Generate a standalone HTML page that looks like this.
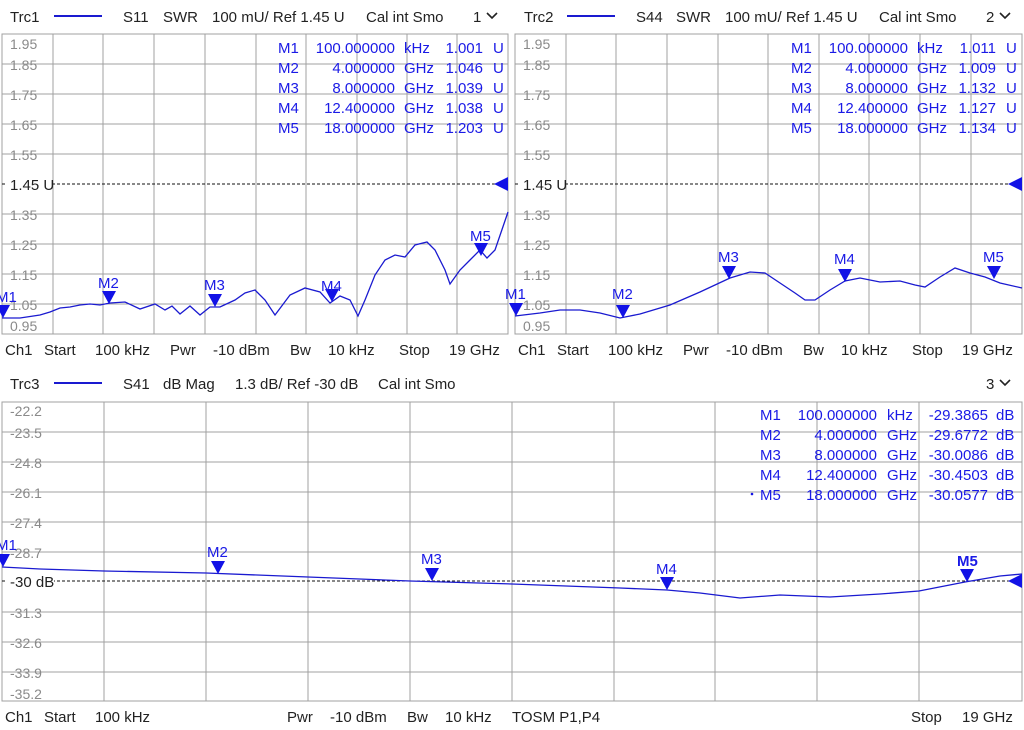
<!DOCTYPE html>
<html><head><meta charset="utf-8"><style>
html,body{margin:0;padding:0;background:#fff;}
svg{display:block;font-family:"Liberation Sans",sans-serif;}
.ax{fill:#8a8a8a;font-size:14px;}
.t{fill:#222;font-size:15px;}
.m{fill:#1a1ae6;font-size:15px;}
.g{stroke:#a0a0a0;stroke-width:1;fill:none;}
.tr{stroke:#1a1ad0;stroke-width:1.3;fill:none;}
</style></head><body>
<svg width="1024" height="730" viewBox="0 0 1024 730">
<rect width="1024" height="730" fill="#fff"/>
<defs>
<path id="mk" d="M-7,-13 L7,-13 L0,0 Z" fill="#1212e6"/>
</defs>

<!-- ===== Panel 1 ===== -->
<g>
<text class="t" x="10" y="22">Trc1</text>
<line x1="54" y1="16" x2="102" y2="16" stroke="#1a1ad0" stroke-width="2"/>
<text class="t" x="123" y="22">S11</text>
<text class="t" x="163" y="22">SWR</text>
<text class="t" x="212" y="22">100 mU/ Ref 1.45 U</text>
<text class="t" x="366" y="22">Cal int Smo</text>
<text class="t" x="473" y="22">1</text>
<path d="M487,13 L492,18 L497,13" stroke="#222" stroke-width="1.6" fill="none"/>
<rect x="2" y="34" width="506" height="300" class="g"/>
<g class="g">
<path d="M53,34V334M103,34V334M154,34V334M205,34V334M256,34V334M306,34V334M357,34V334M407,34V334M457,34V334"/>
<path d="M2,64H508M2,94H508M2,124H508M2,154H508M2,214H508M2,244H508M2,274H508M2,304H508"/>
</g>
<line x1="2" y1="184" x2="508" y2="184" stroke="#111" stroke-dasharray="3,2"/>
<g class="ax">
<text x="10" y="49">1.95</text><text x="10" y="70">1.85</text><text x="10" y="100">1.75</text>
<text x="10" y="130">1.65</text><text x="10" y="160">1.55</text><text x="10" y="220">1.35</text>
<text x="10" y="250">1.25</text><text x="10" y="280">1.15</text><text x="10" y="310">1.05</text>
<text x="10" y="331">0.95</text>
</g>
<rect x="6" y="176" width="46" height="17" fill="#fff"/>
<text class="t" x="10" y="190" font-size="14">1.45 U</text>
<path d="M508,177 L494,184 L508,191 Z" fill="#1212e6"/>
<polyline class="tr" points="2,318 20,318 40,315 50,312 60,308 70,307 80,305 90,304 100,305 110,303 125,302 140,309 155,304 165,310 172,306 180,314 190,306 200,315 210,307 220,307 235,300 245,293 255,290 265,300 275,315 290,295 305,288 320,292 330,303 340,296 350,300 358,316 365,300 375,275 385,260 395,255 405,257 415,245 427,242 435,250 445,270 450,284 460,270 470,260 480,250 487,258 495,250 508,212"/>
<use href="#mk" x="3" y="318"/><text class="m" x="-4" y="302">M1</text>
<use href="#mk" x="109" y="304"/><text class="m" x="98" y="288">M2</text>
<use href="#mk" x="215" y="307"/><text class="m" x="204" y="290">M3</text>
<use href="#mk" x="332" y="302"/><text class="m" x="321" y="291">M4</text>
<use href="#mk" x="481" y="256"/><text class="m" x="470" y="241">M5</text>
<g class="m">
<text x="278" y="53">M1</text><text x="395" y="53" text-anchor="end">100.000000</text><text x="404" y="53">kHz</text><text x="483" y="53" text-anchor="end">1.001</text><text x="493" y="53">U</text>
<text x="278" y="73">M2</text><text x="395" y="73" text-anchor="end">4.000000</text><text x="404" y="73">GHz</text><text x="483" y="73" text-anchor="end">1.046</text><text x="493" y="73">U</text>
<text x="278" y="93">M3</text><text x="395" y="93" text-anchor="end">8.000000</text><text x="404" y="93">GHz</text><text x="483" y="93" text-anchor="end">1.039</text><text x="493" y="93">U</text>
<text x="278" y="113">M4</text><text x="395" y="113" text-anchor="end">12.400000</text><text x="404" y="113">GHz</text><text x="483" y="113" text-anchor="end">1.038</text><text x="493" y="113">U</text>
<text x="278" y="133">M5</text><text x="395" y="133" text-anchor="end">18.000000</text><text x="404" y="133">GHz</text><text x="483" y="133" text-anchor="end">1.203</text><text x="493" y="133">U</text>
</g>
<g class="t">
<text x="5" y="355">Ch1</text><text x="44" y="355">Start</text><text x="95" y="355">100 kHz</text>
<text x="170" y="355">Pwr</text><text x="213" y="355">-10 dBm</text><text x="290" y="355">Bw</text>
<text x="328" y="355">10 kHz</text><text x="399" y="355">Stop</text><text x="449" y="355">19 GHz</text>
</g>
</g>

<!-- ===== Panel 2 ===== -->
<g>
<text class="t" x="524" y="22">Trc2</text>
<line x1="567" y1="16" x2="615" y2="16" stroke="#1a1ad0" stroke-width="2"/>
<text class="t" x="636" y="22">S44</text>
<text class="t" x="676" y="22">SWR</text>
<text class="t" x="725" y="22">100 mU/ Ref 1.45 U</text>
<text class="t" x="879" y="22">Cal int Smo</text>
<text class="t" x="986" y="22">2</text>
<path d="M1000,13 L1005,18 L1010,13" stroke="#222" stroke-width="1.6" fill="none"/>
<rect x="515" y="34" width="507" height="300" class="g"/>
<g class="g">
<path d="M566,34V334M616,34V334M667,34V334M718,34V334M768,34V334M819,34V334M869,34V334M920,34V334M971,34V334"/>
<path d="M515,64H1022M515,94H1022M515,124H1022M515,154H1022M515,214H1022M515,244H1022M515,274H1022M515,304H1022"/>
</g>
<line x1="515" y1="184" x2="1022" y2="184" stroke="#111" stroke-dasharray="3,2"/>
<g class="ax">
<text x="523" y="49">1.95</text><text x="523" y="70">1.85</text><text x="523" y="100">1.75</text>
<text x="523" y="130">1.65</text><text x="523" y="160">1.55</text><text x="523" y="220">1.35</text>
<text x="523" y="250">1.25</text><text x="523" y="280">1.15</text><text x="523" y="310">1.05</text>
<text x="523" y="331">0.95</text>
</g>
<rect x="519" y="176" width="46" height="17" fill="#fff"/>
<text class="t" x="523" y="190" font-size="14">1.45 U</text>
<path d="M1022,177 L1008,184 L1022,191 Z" fill="#1212e6"/>
<polyline class="tr" points="515,316 540,313 560,310 580,310 600,313 620,318 640,314 670,305 700,292 730,278 750,272 765,273 780,283 795,293 805,300 815,300 830,290 845,281 860,278 880,282 900,281 915,285 925,287 940,277 955,268 970,273 985,277 1000,283 1022,288"/>
<use href="#mk" x="516" y="316"/><text class="m" x="505" y="299">M1</text>
<use href="#mk" x="623" y="318"/><text class="m" x="612" y="299">M2</text>
<use href="#mk" x="729" y="279"/><text class="m" x="718" y="262">M3</text>
<use href="#mk" x="845" y="282"/><text class="m" x="834" y="264">M4</text>
<use href="#mk" x="994" y="279"/><text class="m" x="983" y="262">M5</text>
<g class="m">
<text x="791" y="53">M1</text><text x="908" y="53" text-anchor="end">100.000000</text><text x="917" y="53">kHz</text><text x="996" y="53" text-anchor="end">1.011</text><text x="1006" y="53">U</text>
<text x="791" y="73">M2</text><text x="908" y="73" text-anchor="end">4.000000</text><text x="917" y="73">GHz</text><text x="996" y="73" text-anchor="end">1.009</text><text x="1006" y="73">U</text>
<text x="791" y="93">M3</text><text x="908" y="93" text-anchor="end">8.000000</text><text x="917" y="93">GHz</text><text x="996" y="93" text-anchor="end">1.132</text><text x="1006" y="93">U</text>
<text x="791" y="113">M4</text><text x="908" y="113" text-anchor="end">12.400000</text><text x="917" y="113">GHz</text><text x="996" y="113" text-anchor="end">1.127</text><text x="1006" y="113">U</text>
<text x="791" y="133">M5</text><text x="908" y="133" text-anchor="end">18.000000</text><text x="917" y="133">GHz</text><text x="996" y="133" text-anchor="end">1.134</text><text x="1006" y="133">U</text>
</g>
<g class="t">
<text x="518" y="355">Ch1</text><text x="557" y="355">Start</text><text x="608" y="355">100 kHz</text>
<text x="683" y="355">Pwr</text><text x="726" y="355">-10 dBm</text><text x="803" y="355">Bw</text>
<text x="841" y="355">10 kHz</text><text x="912" y="355">Stop</text><text x="962" y="355">19 GHz</text>
</g>
</g>

<!-- ===== Panel 3 ===== -->
<g>
<text class="t" x="10" y="389">Trc3</text>
<line x1="54" y1="383" x2="102" y2="383" stroke="#1a1ad0" stroke-width="2"/>
<text class="t" x="123" y="389">S41</text>
<text class="t" x="163" y="389">dB Mag</text>
<text class="t" x="235" y="389">1.3 dB/ Ref -30 dB</text>
<text class="t" x="378" y="389">Cal int Smo</text>
<text class="t" x="986" y="389">3</text>
<path d="M1000,380 L1005,385 L1010,380" stroke="#222" stroke-width="1.6" fill="none"/>
<rect x="2" y="402" width="1020" height="299" class="g"/>
<g class="g">
<path d="M104,402V701M206,402V701M308,402V701M410,402V701M512,402V701M614,402V701M715,402V701M817,402V701M919,402V701"/>
<path d="M2,432H1022M2,462H1022M2,492H1022M2,522H1022M2,552H1022M2,612H1022M2,642H1022M2,672H1022"/>
</g>
<line x1="2" y1="581" x2="1022" y2="581" stroke="#111" stroke-dasharray="3,2"/>
<g class="ax">
<text x="10" y="416">-22.2</text><text x="10" y="438">-23.5</text><text x="10" y="468">-24.8</text>
<text x="10" y="498">-26.1</text><text x="10" y="528">-27.4</text><text x="10" y="558">-28.7</text>
<text x="10" y="618">-31.3</text><text x="10" y="648">-32.6</text><text x="10" y="678">-33.9</text>
<text x="10" y="699">-35.2</text>
</g>
<rect x="6" y="573" width="48" height="17" fill="#fff"/>
<text class="t" x="10" y="587" font-size="14">-30 dB</text>
<path d="M1022,574 L1008,581 L1022,588 Z" fill="#1212e6"/>
<polyline class="tr" points="2,567 40,569 104,571 206,573 308,577 410,581 512,584 620,588 667,590 700,593 740,598 780,595 830,597 880,594 919,591 965,582 1000,576 1022,574"/>
<use href="#mk" x="3" y="567"/><text class="m" x="-4" y="550">M1</text>
<use href="#mk" x="218" y="574"/><text class="m" x="207" y="557">M2</text>
<use href="#mk" x="432" y="581"/><text class="m" x="421" y="564">M3</text>
<use href="#mk" x="667" y="590"/><text class="m" x="656" y="574">M4</text>
<use href="#mk" x="967" y="582"/><text class="m" x="957" y="566" font-weight="bold">M5</text>
<g class="m">
<text x="760" y="420">M1</text><text x="877" y="420" text-anchor="end">100.000000</text><text x="887" y="420">kHz</text><text x="988" y="420" text-anchor="end">-29.3865</text><text x="996" y="420">dB</text>
<text x="760" y="440">M2</text><text x="877" y="440" text-anchor="end">4.000000</text><text x="887" y="440">GHz</text><text x="988" y="440" text-anchor="end">-29.6772</text><text x="996" y="440">dB</text>
<text x="760" y="460">M3</text><text x="877" y="460" text-anchor="end">8.000000</text><text x="887" y="460">GHz</text><text x="988" y="460" text-anchor="end">-30.0086</text><text x="996" y="460">dB</text>
<text x="760" y="480">M4</text><text x="877" y="480" text-anchor="end">12.400000</text><text x="887" y="480">GHz</text><text x="988" y="480" text-anchor="end">-30.4503</text><text x="996" y="480">dB</text>
<text x="760" y="500">M5</text><text x="877" y="500" text-anchor="end">18.000000</text><text x="887" y="500">GHz</text><text x="988" y="500" text-anchor="end">-30.0577</text><text x="996" y="500">dB</text>
<circle cx="752" cy="494" r="1.3" fill="#1212e6"/>
</g>
<g class="t">
<text x="5" y="722">Ch1</text><text x="44" y="722">Start</text><text x="95" y="722">100 kHz</text>
<text x="287" y="722">Pwr</text><text x="330" y="722">-10 dBm</text><text x="407" y="722">Bw</text>
<text x="445" y="722">10 kHz</text><text x="512" y="722">TOSM P1,P4</text>
<text x="911" y="722">Stop</text><text x="962" y="722">19 GHz</text>
</g>
</g>
</svg>
</body></html>
